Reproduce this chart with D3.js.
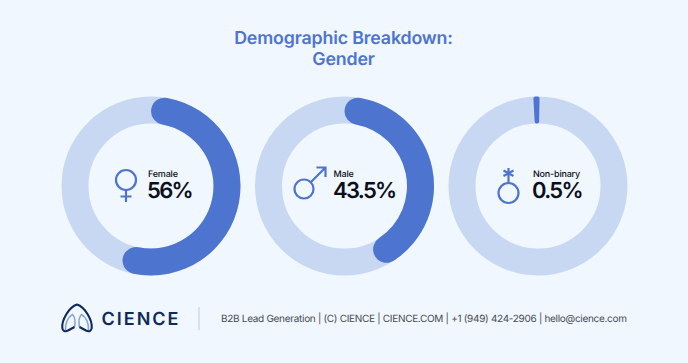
<!DOCTYPE html>
<html><head><meta charset="utf-8">
<script src="https://cdnjs.cloudflare.com/ajax/libs/d3/7.8.5/d3.min.js"></script>
<style>html,body{margin:0;padding:0;background:#f1f7fe}svg{display:block}text{font-family:Inter,sans-serif;text-rendering:geometricPrecision}</style>
</head><body><svg id="c" width="688" height="363"></svg>
<script>
const categories=["Female","Male","Non-binary"];
const percentages=[56,43.5,0.5];
const valueLabels=["56%","43.5%","0.5%"];
const titleLines=["Demographic Breakdown:","Gender"];
const footerText="B2B Lead Generation | (C) CIENCE | CIENCE.COM | +1 (949) 424-2906 | hello@cience.com";

const W=688,H=363,blue="#4d74cf",light="#c8d8f3",bg="#f1f7fe";
const svg=d3.select("#c");
svg.append("rect").attr("width",W).attr("height",H).attr("fill",bg);

svg.selectAll("text.t").data(titleLines).join("text").attr("class","t")
 .attr("x",343.5).attr("y",(d,i)=>44+i*21).attr("text-anchor","middle")
 .attr("font-size",17.8).attr("font-weight",600).attr("letter-spacing",-0.15).attr("fill",blue).text(d=>d);

const cx=d3.scalePoint().domain(categories).range([151,538]);
const cy=186,R=89.5,r=62.5;
const angle=d3.scaleLinear().domain([0,100]).range([0,2*Math.PI]);
const arc=d3.arc().innerRadius(r).outerRadius(R);
const minSweep=4*Math.PI/180;

const textX={"Female":147,"Male":333,"Non-binary":532};
const nameX={"Female":148,"Male":333.5,"Non-binary":533};
const g=svg.selectAll("g.d").data(categories.map((c,i)=>({c,v:percentages[i],l:valueLabels[i]}))).join("g")
 .attr("class","d").attr("transform",d=>`translate(${cx(d.c)},${cy})`);
g.append("circle").attr("r",(R+r)/2).attr("fill","none").attr("stroke",light).attr("stroke-width",R-r);
g.append("path").attr("fill",blue).attr("d",d=>{
  const a=angle(d.v);
  if(a<minSweep) return arc.cornerRadius(2)({startAngle:-minSweep*0.75,endAngle:minSweep*0.25});
  return arc.cornerRadius((R-r)/2)({startAngle:0,endAngle:a});
});
svg.selectAll("text.n").data(categories).join("text").attr("class","n")
 .attr("x",d=>nameX[d]).attr("y",177).attr("font-size",9).attr("font-weight",500).attr("letter-spacing",-0.2).attr("fill","#0b0f1a").text(d=>d);
svg.selectAll("text.v").data(valueLabels).join("text").attr("class","v")
 .attr("x",(d,i)=>textX[categories[i]]).attr("y",198).attr("font-size",22).attr("font-weight",600)
 .attr("letter-spacing",-1.7).attr("fill","#0b0f1a").text(d=>d);

const ic=svg.append("g").attr("fill","none").attr("stroke",blue).attr("stroke-width",2.2);
// female
ic.append("circle").attr("cx",126).attr("cy",180).attr("r",10);
ic.append("path").attr("d","M126 190V202M120.5 196.5H131.5");
// male
ic.append("circle").attr("cx",304).attr("cy",189).attr("r",9.5);
ic.append("path").attr("d","M311 182L325 168M316.5 167.5H325.5V177");
// non-binary
ic.append("circle").attr("cx",508.5).attr("cy",193).attr("r",10);
ic.append("path").attr("d","M508.5 183V168M503.5 170.5L513.5 176M513.5 170.5L503.5 176");

// logo
const lgi=svg.append("g").attr("fill","none").attr("stroke","#8ea6cc").attr("stroke-width",1.6);
lgi.append("path").attr("d","M74.5 327C75.5 322 75 317 72.500 314.500C68 317 65 323 65.500 330");
lgi.append("path").attr("d","M79.500 327C78.500 322 79 317 81.500 314.500C86 317 89 323 88.500 330");
const lg=svg.append("g").attr("fill","none").attr("stroke","#0f2a5c").attr("stroke-width",2.1).attr("stroke-linejoin","round");
lg.append("path").attr("d","M74.500 327L68 330.500C65 332 62.500 331 62.300 328C61.500 320 69 307 77 304.500C85 307 92.500 320 91.700 328C91.500 331 89 332 86 330.500L79.500 327");
svg.append("text").attr("x",101.500).attr("y",324.500).attr("font-size",18).attr("font-weight",600).attr("letter-spacing",2).attr("fill","#0f2a5c").text("CIENCE");
svg.append("line").attr("x1",199).attr("x2",199).attr("y1",307).attr("y2",330).attr("stroke","#c3cad6");
svg.append("text").attr("x",221).attr("y",322).attr("font-size",10).attr("letter-spacing",-0.3).attr("fill","#454b57").text(footerText);
</script></body></html>
